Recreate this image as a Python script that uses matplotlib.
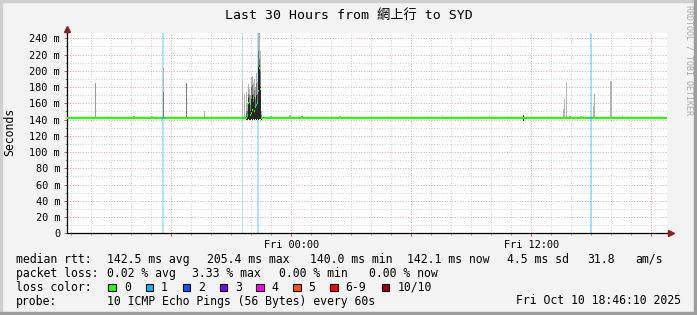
import matplotlib
matplotlib.use('Agg')
import matplotlib.pyplot as plt
from matplotlib.ticker import MultipleLocator, FuncFormatter
from matplotlib.patches import Rectangle
from matplotlib.lines import Line2D

W, H = 697, 315

# ---------------- data ----------------
title = "Last 30 Hours from 網上行 to SYD"
x_start, x_end = -11.23, 18.77          # hours relative to Fri 00:00
xtick_hours = [0, 12]
xtick_labels = ["Fri 00:00", "Fri 12:00"]
y_max = 246.2
baseline_median = 142.0

# isolated smoke spikes (hours, low, top, shade level 1=light .. 5=dark)
spike_hours = [-11.19, -9.78, -7.865, -6.965, -6.40, -6.40, -5.25, -4.35, -2.45, -2.34,
               -1.015, -0.065, 0.535, 2.435, 7.55, 9.90, 11.60, 13.60, 13.65, 13.77,
               13.935, 14.485, 15.10, 15.15, 15.985, 16.57]
spike_low = [141, 141, 141, 141, 141, 141, 141, 141, 141, 141,
             141, 141, 141, 141, 141, 141, 138, 141, 141, 141,
             141, 141, 141, 141, 141, 141]
spike_top = [171, 185, 145, 144, 203, 174, 185, 151, 188, 172,
             145, 146, 145, 144, 145, 144, 146, 153, 165, 186,
             145, 144, 157, 172, 188, 145]
spike_shade = [1, 2, 1, 1, 1, 3, 3, 1, 1, 1,
               1, 1, 1, 1, 1, 1, 5, 1, 1, 1,
               1, 1, 1, 1, 1, 1]

# dense cluster before Fri 00:00
cluster_hours = [-2.265, -2.215, -2.165, -2.115, -2.065, -2.015, -1.965, -1.915,
                 -1.865, -1.815, -1.765, -1.715, -1.665, -1.615, -1.565, -1.515]
cluster_max = [174, 160, 184, 178, 170, 192, 194, 185, 190, 180, 197, 186, 246, 246, 225, 150]
cluster_mid = [150, 150, 172, 170, 158, 180, 182, 172, 176, 165, 185, 172, 225, 215, 200, 146]
cluster_dark = [144, 146, 166, 160, 150, 165, 170, 162, 168, 156, 170, 160, 205, 207, 180, 143]
cluster_min = [140, 140, 141, 140, 140, 141, 140, 141, 140, 141, 140, 141, 140, 141, 141, 140]
cluster_median = [142, 144, 160, 163, 146, 148, 152, 167, 151, 156, 158, 160, 175, 204, 178, 142]
cluster_loss = [0, 0, 0, 0, 0, 0, 0, 0, 0, 0, 1, 0, 1, 0, 0, 0]

# packet-loss events (hours, duration hours, lost pings)
loss_hours = [-6.40, -2.45, -1.65, 14.985]
loss_duration = [0.10, 0.06, 0.10, 0.06]
loss_count = [1, 1, 1, 1]

loss_labels = ["0", "1", "2", "3", "4", "5", "6-9", "10/10"]
loss_colors = ["#26ff00", "#00b8ff", "#0059ff", "#7e00ff", "#ff00ff", "#ff5500", "#ff0000", "#a10000"]

shade_colors = {1: "#b2b2b2", 2: "#9c9c9c", 3: "#7a7a7a", 4: "#585858", 5: "#262626"}

legend_rtt = [("median rtt:", 16), ("142.5 ms avg", 107.3), ("205.4 ms max", 207.3),
              ("140.0 ms min", 310.5), ("142.1 ms now", 407.3), ("4.5 ms sd", 506.7),
              ("31.8", 587.3), ("am/s", 635.7)]
legend_loss = [("packet loss:", 16), ("0.02 % avg", 107.3), ("3.33 % max", 191.7),
               ("0.00 % min", 279.3), ("0.00 % now", 369.3)]
probe_text = "10 ICMP Echo Pings (56 Bytes) every 60s"
date_text = "Fri Oct 10 18:46:10 2025"

# ---------------- figure ----------------
MONO = ['DejaVu Sans Mono', 'Noto Sans CJK SC']
fig = plt.figure(figsize=(W / 100, H / 100), dpi=100, facecolor='#f3f3f3')

# frame shading
fig.patches.append(Rectangle((0, 1 - 2 / H), 1, 2 / H, transform=fig.transFigure, color='#cfcfcf', zorder=0))
fig.patches.append(Rectangle((0, 0), 2 / W, 1, transform=fig.transFigure, color='#cfcfcf', zorder=0))
fig.patches.append(Rectangle((1 - 3 / W, 0), 3 / W, 1, transform=fig.transFigure, color='#9d9d9d', zorder=0))
fig.patches.append(Rectangle((0, 0), 1, 3 / H, transform=fig.transFigure, color='#9d9d9d', zorder=0))

L, R, T, B = 66.7, 666.7, 33.3, 233.3
ax = fig.add_axes([L / W, 1 - B / H, (R - L) / W, (B - T) / H])
ax.set_facecolor('white')
ax.set_xlim(x_start, x_end)
ax.set_ylim(0, y_max)

# grid
ax.xaxis.set_major_locator(MultipleLocator(6))
ax.xaxis.set_minor_locator(MultipleLocator(1))
ax.yaxis.set_major_locator(MultipleLocator(20))
ax.yaxis.set_minor_locator(MultipleLocator(10))
ax.grid(which='minor', color='#d4d4d4', linestyle=(0, (1, 1.6)), linewidth=0.72)
ax.grid(which='major', color='#e7aaaa', linestyle=(0, (1, 1.6)), linewidth=0.72)
ax.set_axisbelow(True)

xlab = dict(zip(xtick_hours, xtick_labels))
ax.xaxis.set_major_formatter(FuncFormatter(lambda v, p: xlab.get(int(round(v)), "") if abs(v - round(v)) < 1e-6 else ""))
ax.yaxis.set_major_formatter(FuncFormatter(lambda v, p: "0" if v == 0 else f"{v:.0f} m"))
ax.tick_params(which='major', axis='both', direction='out', length=2.2, width=0.72, color='#c06060',
               labelsize=7.4, pad=2.6)
ax.tick_params(which='minor', axis='both', direction='out', length=1.5, width=0.72, color='#a0a0a0')
for lab in ax.get_xticklabels() + ax.get_yticklabels():
    lab.set_family(MONO)

for s in ['top', 'right']:
    ax.spines[s].set_visible(False)
for s in ['left', 'bottom']:
    ax.spines[s].set_linewidth(0.9)
    ax.spines[s].set_color('black')

# loss bars (full height)
for h, d, c in zip(loss_hours, loss_duration, loss_count):
    ax.axvspan(h - d / 2, h + d / 2, color=loss_colors[c], alpha=0.33, linewidth=0, zorder=1)

# smoke
ax.bar(spike_hours, [t - l for t, l in zip(spike_top, spike_low)], bottom=spike_low, width=0.07,
       color=[shade_colors[s] for s in spike_shade], linewidth=0, zorder=2)
ax.bar(cluster_hours, [t - l for t, l in zip(cluster_max, cluster_min)], bottom=cluster_min, width=0.05,
       color=shade_colors[1], linewidth=0, zorder=2)
ax.bar(cluster_hours, [t - l for t, l in zip(cluster_mid, cluster_min)], bottom=cluster_min, width=0.05,
       color=shade_colors[3], linewidth=0, zorder=2)
ax.bar(cluster_hours, [t - l for t, l in zip(cluster_dark, cluster_min)], bottom=cluster_min, width=0.05,
       color=shade_colors[5], linewidth=0, zorder=2)

# median line
c0, c1 = cluster_hours[0] - 0.025, cluster_hours[-1] + 0.025
ax.hlines(baseline_median, x_start, c0, color=loss_colors[0], linewidth=1.6, zorder=3)
ax.hlines(baseline_median, c1, x_end, color=loss_colors[0], linewidth=1.6, zorder=3)
ax.hlines(cluster_median, [h - 0.025 for h in cluster_hours], [h + 0.025 for h in cluster_hours],
          colors=[loss_colors[k] for k in cluster_loss], linewidth=1.6, zorder=3)
for h, d, c in zip(loss_hours, loss_duration, loss_count):
    if not (c0 <= h <= c1):
        ax.hlines(baseline_median, h - d / 2, h + d / 2, color=loss_colors[c], linewidth=1.6, zorder=4)

# axis arrows
arrow_c = '#8b1f1f'
fig.lines.append(Line2D([L / W, L / W], [1 - T / H, 1 - 30.5 / H], transform=fig.transFigure, color='black', lw=0.9))
fig.lines.append(Line2D([R / W, 669 / W], [1 - B / H, 1 - B / H], transform=fig.transFigure, color='black', lw=0.9))
fig.lines.append(Line2D([L / W], [1 - 28.5 / H], transform=fig.transFigure, marker='^', markersize=4.2,
                        color=arrow_c, linestyle='none'))
fig.lines.append(Line2D([671 / W], [1 - B / H], transform=fig.transFigure, marker='>', markersize=4.2,
                        color=arrow_c, linestyle='none'))

# texts
def ftext(x, y, s, **kw):
    kw.setdefault('family', MONO)
    kw.setdefault('size', 8.3)
    kw.setdefault('color', 'black')
    fig.text(x / W, 1 - y / H, s, **kw)

ftext(348.5, 15, title, size=9.5, ha='center', va='center')
ftext(10, 131.5, "Seconds", rotation=90, ha='center', va='center')
ftext(688.5, 60, "RRDTOOL / TOBI OETIKER", rotation=270, ha='center', va='center', size=6.0, color='#a8a8a8')

for s, x in legend_rtt:
    ftext(x, 259.3, s, ha='left', va='center')
for s, x in legend_loss:
    ftext(x, 273.3, s, ha='left', va='center')
ftext(16, 287.3, "loss color:", ha='left', va='center')
box_x = [108.3, 145.5, 182.7, 219.5, 256.0, 293.0, 330.0, 381.7]
for bx, lab, col in zip(box_x, loss_labels, loss_colors):
    fig.patches.append(Rectangle((bx / W, 1 - 291.0 / H), 7.5 / W, 7.5 / H, transform=fig.transFigure,
                                 facecolor=col, edgecolor='black', linewidth=0.8))
    ftext(bx + 15.5, 287.3, lab, ha='left', va='center')
ftext(16, 301, "probe:", ha='left', va='center')
ftext(107.3, 301, probe_text, ha='left', va='center')
ftext(680.5, 301, date_text, ha='right', va='center')

fig.savefig('out.png', dpi=100, facecolor=fig.get_facecolor())
